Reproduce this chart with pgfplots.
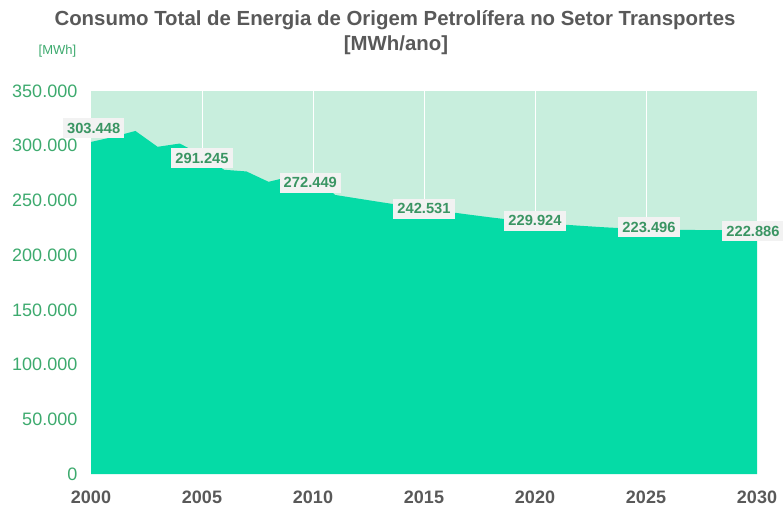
\documentclass[border=0pt]{standalone}
\usepackage{pgfplots}
\pgfplotsset{compat=1.18}
\usepackage{pgfplotstable}
\usepackage{fontspec}
\setmainfont{Liberation Sans}
\definecolor{mainfill}{HTML}{05DBA6}
\definecolor{bglight}{HTML}{C8EEDD}
\definecolor{tickgreen}{HTML}{3DAA6E}
\definecolor{lblgreen}{HTML}{3A9563}
\definecolor{lblbox}{HTML}{F2F2F2}
\definecolor{titlegray}{HTML}{595959}
\tikzset{lbl/.style={fill=lblbox, text=lblgreen, font=\fontsize{14.7}{17}\selectfont\bfseries, inner xsep=4pt, inner ysep=0pt, minimum height=20pt, anchor=center}}

\pgfplotstableread{
year value
2000 303448
2001 308000
2002 313500
2003 299000
2004 302000
2005 291245
2006 278000
2007 276500
2008 267000
2009 272000
2010 272449
2011 255000
2012 251800
2013 248600
2014 245500
2015 242531
2016 239800
2017 237100
2018 234500
2019 232100
2020 229924
2021 228300
2022 226900
2023 225600
2024 224500
2025 223496
2026 223200
2027 223000
2028 222900
2029 222900
2030 222886
}\datatable

\begin{document}
\begin{tikzpicture}[x=1pt,y=1pt]
\useasboundingbox (0,0) rectangle (783,507);
\begin{axis}[
  at={(91pt,33pt)}, anchor=south west,
  scale only axis, width=666pt, height=383pt,
  xmin=2000, xmax=2030, ymin=0, ymax=350000,
  clip=false,
  axis line style={draw=none},
  axis background/.style={fill=bglight},
  major tick length=0pt,
  xtick={2000,2005,2010,2015,2020,2025,2030},
  xticklabels={2000,2005,2010,2015,2020,2025,2030},
  xticklabel style={anchor=north, inner ysep=0pt, yshift=-17pt, text=titlegray, font=\fontsize{18}{21}\selectfont\bfseries},
  extra x ticks={2005,2010,2015,2020,2025},
  extra x tick labels={},
  extra x tick style={grid=major, major grid style={white, line width=0.9pt}},
  ytick={0,50000,100000,150000,200000,250000,300000,350000},
  yticklabels={0,50.000,100.000,150.000,200.000,250.000,300.000,350.000},
  yticklabel style={anchor=east, inner xsep=0pt, xshift=-13.5pt, text=tickgreen, font=\fontsize{18}{21}\selectfont},
  scaled y ticks=false,
]
\addplot[fill=mainfill, draw=none] table[x=year, y=value] {\datatable} \closedcycle;
\node[lbl, xshift=2.7pt, yshift=13.5pt] at (axis cs:2000,303448) {303.448};
\node[lbl, yshift=-3pt] at (axis cs:2005,291245) {291.245};
\node[lbl, xshift=-2.7pt, yshift=-7pt] at (axis cs:2010,272449) {272.449};
\node[lbl] at (axis cs:2015,242531) {242.531};
\node[lbl, yshift=1.5pt] at (axis cs:2020,229924) {229.924};
\node[lbl, xshift=3pt, yshift=2pt] at (axis cs:2025,223496) {223.496};
\node[lbl, xshift=-4pt, yshift=-1pt] at (axis cs:2030,222886) {222.886};
\end{axis}
\node[anchor=base, text=titlegray, font=\fontsize{20.4}{24}\selectfont\bfseries] at (395,481) {Consumo Total de Energia de Origem Petrolífera no Setor Transportes};
\node[anchor=base, text=titlegray, font=\fontsize{20.4}{24}\selectfont\bfseries] at (396,456.5) {[MWh/ano]};
\node[text=tickgreen, font=\fontsize{13}{15}\selectfont] at (57.5,456) {[MWh]};
\end{tikzpicture}
\end{document}
